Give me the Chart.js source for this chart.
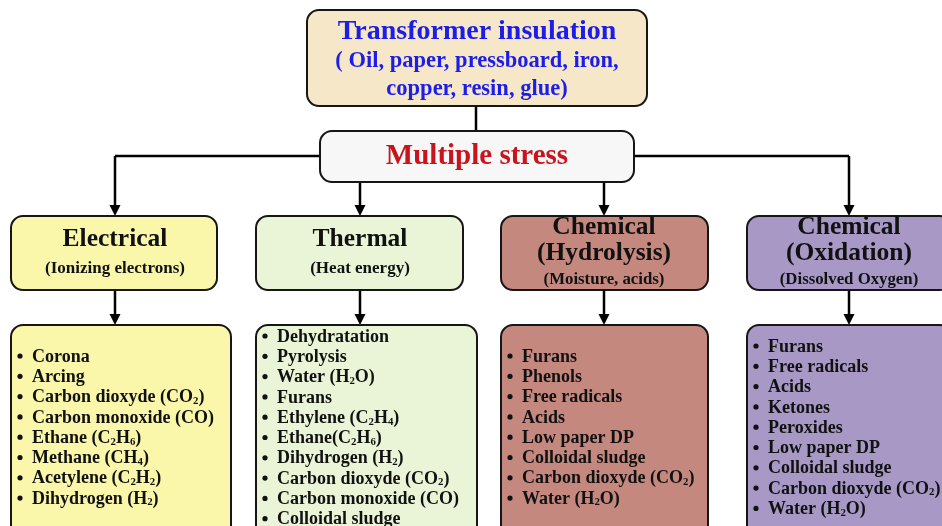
<!DOCTYPE html>
<html lang="en">
<head>
    <meta charset="UTF-8">
    <title>Transformer insulation - Multiple stress</title>
    <style>
        html, body { margin: 0; padding: 0; background: #fff; }
        .canvas { width: 942px; height: 526px; position: relative; }
    </style>
</head>
<body>
    <div class="canvas">
        <canvas id="myChart"></canvas>
    </div>
<script src="https://cdn.jsdelivr.net/npm/chart.js"></script>
<script>
    // texts of the diagram ("_2" = subscript 2)
    var rootLines = ['Transformer insulation', '( Oil, paper, pressboard, iron,', 'copper, resin, glue)'];
    var stressLabel = 'Multiple stress';
    var categories = [['Electrical'], ['Thermal'], ['Chemical', '(Hydrolysis)'], ['Chemical', '(Oxidation)']];
    var causes = ['(Ionizing electrons)', '(Heat energy)', '(Moisture, acids)', '(Dissolved Oxygen)'];
    var electricalItems = ['Corona', 'Arcing', 'Carbon dioxyde (CO_2)', 'Carbon monoxide (CO)',
        'Ethane (C_2H_6)', 'Methane (CH_4)', 'Acetylene (C_2H_2)', 'Dihydrogen (H_2)'];
    var thermalItems = ['Dehydratation', 'Pyrolysis', 'Water (H_2O)', 'Furans', 'Ethylene (C_2H_4)',
        'Ethane(C_2H_6)', 'Dihydrogen (H_2)', 'Carbon dioxyde (CO_2)', 'Carbon monoxide (CO)', 'Colloidal sludge'];
    var hydrolysisItems = ['Furans', 'Phenols', 'Free radicals', 'Acids', 'Low paper DP',
        'Colloidal sludge', 'Carbon dioxyde (CO_2)', 'Water (H_2O)'];
    var oxidationItems = ['Furans', 'Free radicals', 'Acids', 'Ketones', 'Peroxides', 'Low paper DP',
        'Colloidal sludge', 'Carbon dioxyde (CO_2)', 'Water (H_2O)'];
    var itemLists = [electricalItems, thermalItems, hydrolysisItems, oxidationItems];

    // layout (in scale units, 0..942 x 0..526)
    var rootBox = { x0: 307, x1: 647, y0: 10, y1: 106, fill: '#f6e7c9' };
    var stressBox = { x0: 320, x1: 634, y0: 131, y1: 182, fill: '#f7f7f7' };
    var columnX = [115, 360, 604, 849];
    var catBoxes = [[11, 217], [256, 463], [501, 708], [747, 952]];
    var itemBoxes = [[11, 231], [256, 477], [501, 708], [747, 952]];
    var colFills = ['#fbf7aa', '#eaf5d7', '#c4887f', '#a898c6'];
    var itemFirstY = [357, 337, 357, 347];
    var FONT = "'Liberation Serif', 'DejaVu Serif', serif";

    function criarDiagrama() {
        const ctx = document.getElementById('myChart');

        var pontos = columnX.map(function (x) { return { x: x, y: 253 }; });

        var diagrama = {
            id: 'diagrama',
            afterDatasetsDraw: function (chart) {
                var c = chart.ctx;
                var sx = chart.scales.x, sy = chart.scales.y;
                var px = function (v) { return sx.getPixelForValue(v); };
                var py = function (v) { return sy.getPixelForValue(v); };

                function caixa(x0, x1, y0, y1, fill) {
                    c.save();
                    c.beginPath();
                    c.roundRect(px(x0), py(y0), px(x1) - px(x0), py(y1) - py(y0), 12);
                    c.fillStyle = fill;
                    c.fill();
                    c.lineWidth = 2;
                    c.strokeStyle = '#161616';
                    c.stroke();
                    c.restore();
                }

                function linha(x0, y0, x1, y1) {
                    c.save();
                    c.beginPath();
                    c.moveTo(px(x0), py(y0));
                    c.lineTo(px(x1), py(y1));
                    c.lineWidth = 2.5;
                    c.strokeStyle = '#000';
                    c.stroke();
                    c.restore();
                }

                function seta(x, y0, y1) {
                    linha(x, y0, x, y1 - 8);
                    c.save();
                    c.beginPath();
                    c.moveTo(px(x), py(y1));
                    c.lineTo(px(x) - 5.5, py(y1) - 11);
                    c.lineTo(px(x) + 5.5, py(y1) - 11);
                    c.closePath();
                    c.fillStyle = '#000';
                    c.fill();
                    c.restore();
                }

                // splits "CO_2" into normal / subscript parts
                function partes(txt) {
                    var out = [];
                    var re = /_(\d)/g, last = 0, m;
                    while ((m = re.exec(txt)) !== null) {
                        if (m.index > last) out.push({ t: txt.slice(last, m.index), sub: false });
                        out.push({ t: m[1], sub: true });
                        last = re.lastIndex;
                    }
                    if (last < txt.length) out.push({ t: txt.slice(last), sub: false });
                    return out;
                }

                function texto(txt, x, y, size, color, align) {
                    var ps = partes(txt);
                    c.save();
                    c.textBaseline = 'middle';
                    c.textAlign = 'left';
                    c.fillStyle = color;
                    var w = 0;
                    ps.forEach(function (p) {
                        c.font = 'bold ' + (p.sub ? size * 0.6 : size) + 'px ' + FONT;
                        p.w = c.measureText(p.t).width;
                        w += p.w;
                    });
                    var cx = align === 'center' ? px(x) - w / 2 : px(x);
                    ps.forEach(function (p) {
                        c.font = 'bold ' + (p.sub ? size * 0.6 : size) + 'px ' + FONT;
                        c.fillText(p.t, cx, py(y) + (p.sub ? size * 0.2 : 0));
                        cx += p.w;
                    });
                    c.restore();
                }

                // connectors
                linha(476, rootBox.y1, 476, stressBox.y0);
                linha(columnX[0], 156, columnX[3], 156);
                seta(columnX[0], 156, 216);
                seta(columnX[3], 156, 216);
                seta(columnX[1], stressBox.y1, 216);
                seta(columnX[2], stressBox.y1, 216);
                columnX.forEach(function (x) { seta(x, 290, 325); });

                // root + stress
                caixa(rootBox.x0, rootBox.x1, rootBox.y0, rootBox.y1, rootBox.fill);
                texto(rootLines[0], 477, 32, 28, '#1d1de8', 'center');
                texto(rootLines[1], 477, 61, 22.5, '#1d1de8', 'center');
                texto(rootLines[2], 477, 89, 22.5, '#1d1de8', 'center');
                caixa(stressBox.x0, stressBox.x1, stressBox.y0, stressBox.y1, stressBox.fill);
                texto(stressLabel, 477, 157, 29, '#c8141c', 'center');

                // stress categories
                categories.forEach(function (linhas, i) {
                    var b = catBoxes[i];
                    caixa(b[0], b[1], 216, 290, colFills[i]);
                    if (linhas.length === 1) {
                        texto(linhas[0], columnX[i], 239, 25.5, '#111', 'center');
                        texto(causes[i], columnX[i], 269, 17, '#111', 'center');
                    } else {
                        texto(linhas[0], columnX[i], 227, 25.5, '#111', 'center');
                        texto(linhas[1], columnX[i], 253, 25.5, '#111', 'center');
                        texto(causes[i], columnX[i], 280, 16.8, '#111', 'center');
                    }
                });

                // item lists
                itemLists.forEach(function (lista, i) {
                    var b = itemBoxes[i];
                    caixa(b[0], b[1], 325, 560, colFills[i]);
                    lista.forEach(function (item, k) {
                        var y = itemFirstY[i] + k * 20.3;
                        c.save();
                        c.beginPath();
                        c.arc(px(b[0] + 9), py(y) - 1, 2.6, 0, Math.PI * 2);
                        c.fillStyle = '#111';
                        c.fill();
                        c.restore();
                        texto(item, b[0] + 21, y, 18, '#111', 'left');
                    });
                });
            }
        };

        new Chart(ctx, {
            type: 'scatter',
            data: {
                datasets: [{
                    data: pontos,
                    pointRadius: 0
                }]
            },
            options: {
                responsive: true,
                maintainAspectRatio: false,
                animation: false,
                layout: { padding: 0 },
                plugins: {
                    legend: { display: false },
                    tooltip: { enabled: false }
                },
                scales: {
                    x: { type: 'linear', min: 0, max: 942, display: false },
                    y: { type: 'linear', min: 0, max: 526, reverse: true, display: false }
                }
            },
            plugins: [diagrama]
        });
    }

    criarDiagrama()
</script>
</body>
</html>
